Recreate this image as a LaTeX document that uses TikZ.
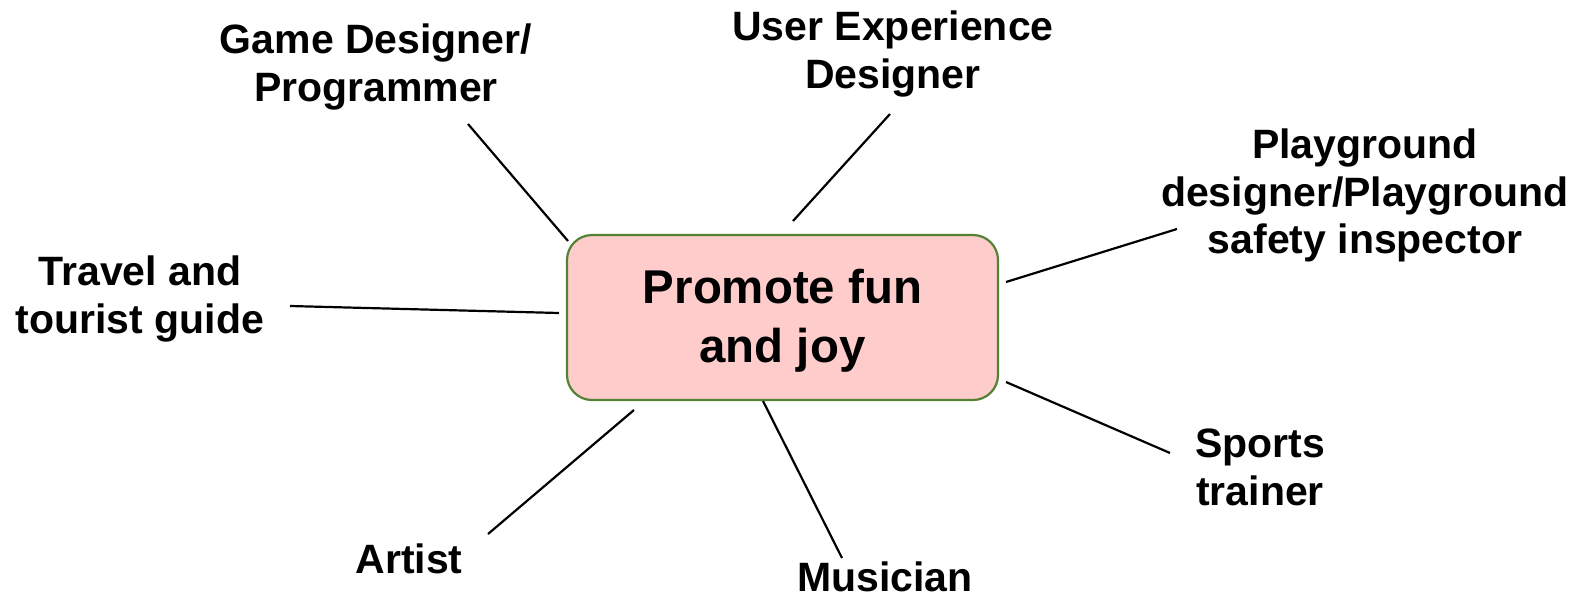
\documentclass[tikz,border=0pt]{standalone}
\usepackage{fontspec}
\setmainfont{Liberation Sans}
\usepackage{xcolor}
\usepackage{tikz}
\usetikzlibrary{positioning}

\definecolor{boxpink}{HTML}{FFCCCC}
\definecolor{boxgreen}{HTML}{548235}

\begin{document}
\begin{tikzpicture}[
    x=1pt, y=-1pt,
    goal/.style={
      draw=boxgreen,
      line width=2.2pt,
      rounded corners=25pt,
      fill=boxpink,
      align=center,
      minimum width=431pt,
      minimum height=165pt,
      inner sep=0pt,
      font=\fontsize{47.4}{59}\selectfont\bfseries
    },
    career/.style={
      anchor=north,
      align=center,
      inner sep=0pt,
      font=\fontsize{41}{47.5}\selectfont\bfseries
    },
    spoke/.style={line width=2.2pt, black}
]
\useasboundingbox (0,0) rectangle (1585,598);

% 1) Central goal
\node[goal] (joy) at (782.5,317.5) {\rule{0pt}{40pt}Promote fun\\and joy};

% 2) Careers round it
\node[career] (game) at (376,24) {Game Designer/\\Programmer};
\node[career] (ux) at (893,11) {User Experience\\Designer};
\node[career] (playground) at (1365,129) {Playground\\designer/Playground\\safety inspector};
\node[career] (travel) at (140,256) {Travel and\\tourist guide};
\node[career] (sports) at (1260,429) {Sports\\trainer};
\node[career] (artist) at (409,544) {Artist};
\node[career] (musician) at (885,562) {Musician};

% 3) Ends of the spokes
\coordinate (gameA) at (468,124);       \coordinate (gameB) at (568,241);
\coordinate (uxA) at (890,114);         \coordinate (uxB) at (793,221);
\coordinate (playA) at (1177,229);      \coordinate (playB) at (1006,282);
\coordinate (travelA) at (290,306);     \coordinate (travelB) at (559,313);
\coordinate (sportsA) at (1170,453);    \coordinate (sportsB) at (1006,382);
\coordinate (musicA) at (842,558);      \coordinate (musicB) at (763,401);
\coordinate (artistA) at (488,534);     \coordinate (artistB) at (634,410);

% SPOKES
\draw[spoke] (gameA) -- (gameB);
\draw[spoke] (uxA) -- (uxB);
\draw[spoke] (playA) -- (playB);
\draw[spoke] (travelA) -- (travelB);
\draw[spoke] (sportsA) -- (sportsB);
\draw[spoke] (musicA) -- (musicB);
\draw[spoke] (artistA) -- (artistB);

\end{tikzpicture}
\end{document}
